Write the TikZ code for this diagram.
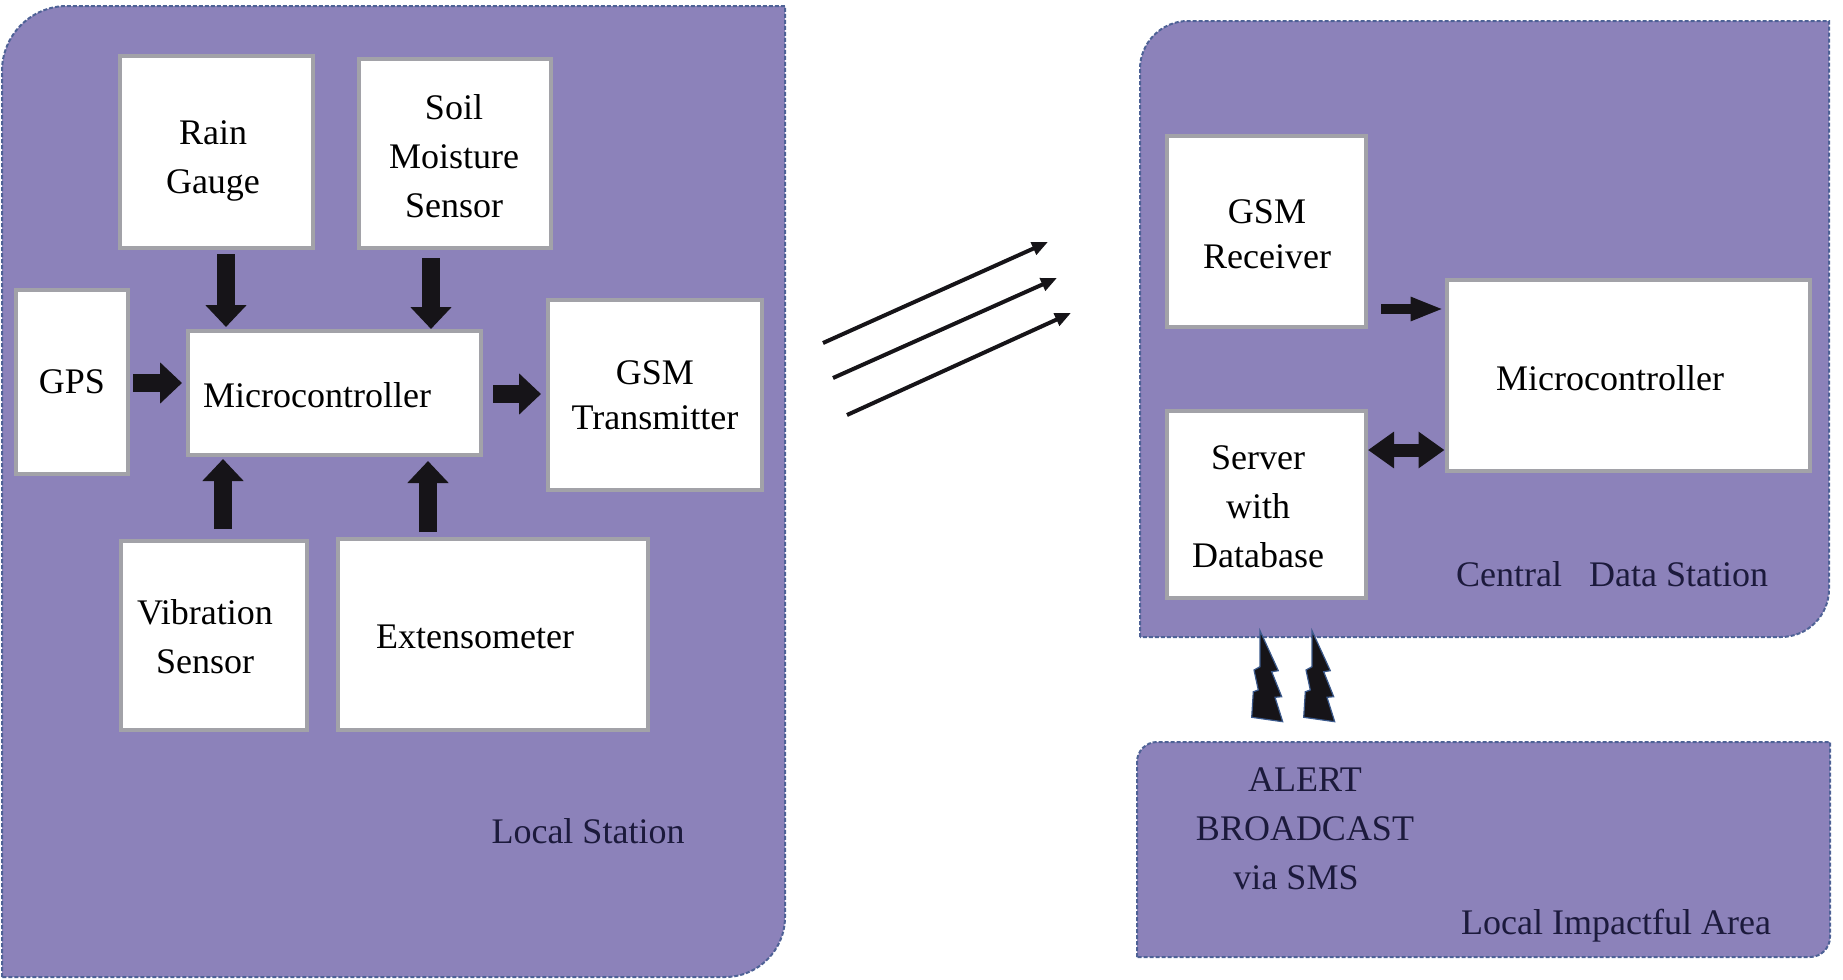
\documentclass[tikz,border=0pt]{standalone}
\usepackage{fontspec}
\setmainfont{Liberation Serif}
\usetikzlibrary{arrows.meta}

\definecolor{panelfill}{RGB}{140,130,186}
\definecolor{paneledge}{RGB}{78,98,150}
\definecolor{boxedge}{RGB}{162,162,168}
\definecolor{inkblack}{RGB}{22,20,24}
\definecolor{navytext}{RGB}{28,26,60}
\definecolor{boltedge}{RGB}{60,90,140}

\tikzset{
  panel/.style={fill=panelfill, draw=paneledge, line width=1pt, dash pattern=on 2pt off 1pt},
  box/.style={draw=boxedge, line width=2pt, fill=white, inner sep=0pt, align=center,
              font=\fontsize{18pt}{24.5pt}\selectfont, text=black},
  boxtight/.style={box, font=\fontsize{18pt}{22.4pt}\selectfont},
  txt/.style={inner sep=0pt, align=center, font=\fontsize{18pt}{24.5pt}\selectfont, text=black},
  tag/.style={inner sep=0pt, align=center, font=\fontsize{18pt}{24.5pt}\selectfont, text=navytext},
  blk/.style={draw=inkblack, line width=9pt, -{Triangle[width=20pt,length=11pt]}},
  blksmall/.style={draw=inkblack, line width=5pt, -{Triangle[width=11pt,length=16.5pt]}},
  blkboth/.style={draw=inkblack, line width=6.5pt, {Triangle[width=17.5pt,length=13pt]}-{Triangle[width=17.5pt,length=13pt]}},
  radio/.style={draw=inkblack, line width=2pt, -{Triangle[width=6.5pt,length=8pt]}},
  bolt/.style={fill=inkblack, draw=boltedge, line width=0.6pt, line join=miter}
}

\begin{document}
\begin{tikzpicture}[x=0.5pt, y=-0.5pt]
  \useasboundingbox (0,0) rectangle (1843,980);

  % ---- station panels (rounded top-left and bottom-right corners) ----
  \path[panel] (2,977) -- (2,71) .. controls (2,35.1) and (31.1,6) .. (67,6)
     -- (785,6) -- (785,917) .. controls (785,950.1) and (758.1,977) .. (725,977) -- cycle;
  \path[panel] (1140,637) -- (1140,69) .. controls (1140,42.5) and (1161.5,21) .. (1188,21)
     -- (1829,21) -- (1829,589) .. controls (1829,615.5) and (1807.5,637) .. (1781,637) -- cycle;
  \path[panel] (1137,957) -- (1137,762) .. controls (1137,751) and (1146,742) .. (1157,742)
     -- (1830,742) -- (1830,937) .. controls (1830,948) and (1821,957) .. (1810,957) -- cycle;

  % ---- local station blocks ----
  \node[box, minimum width=96.5pt, minimum height=96pt] (rain) at (216.5,152) {};
  \node[txt] (raintxt) at (213,161) {Rain\\Gauge};
  \node[box, minimum width=96pt, minimum height=94.5pt] (soil) at (455,153.5) {};
  \node[txt] (soiltxt) at (454,156) {Soil\\Moisture\\Sensor};
  \node[box, minimum width=56pt, minimum height=92pt] (gps) at (72,382) {GPS};
  \node[box, minimum width=146.5pt, minimum height=62pt] (micro) at (334.5,393) {};
  \node[txt] (microtxt) at (317,395) {Microcontroller};
  \node[boxtight, minimum width=107pt, minimum height=95pt] (gsmT) at (655,395) {GSM\\Transmitter};
  \node[box, minimum width=93pt, minimum height=94.5pt] (vib) at (214,635.5) {};
  \node[txt] (vibtxt) at (205,637) {Vibration\\Sensor};
  \node[box, minimum width=155pt, minimum height=95.5pt] (ext) at (493,634.5) {};
  \node[txt] (exttxt) at (475,637) {Extensometer};

  % ---- central data station blocks ----
  \node[boxtight, minimum width=99.5pt, minimum height=95.5pt] (gsmR) at (1266.5,231.5) {};
  \node[txt, font=\fontsize{18pt}{22.4pt}\selectfont] (gsmRtxt) at (1267,234) {GSM\\Receiver};
  \node[box, minimum width=181.5pt, minimum height=95.5pt] (microR) at (1628,375.5) {};
  \node[txt] (microRtxt) at (1610,378.5) {Microcontroller};
  \node[box, minimum width=99.5pt, minimum height=93.5pt] (server) at (1266.5,504.5) {};
  \node[txt] (servertxt) at (1258,507) {Server\\with\\Database};

  % ---- panel captions ----
  \node[tag] (localtag) at (588,831) {Local Station};
  \node[tag] (centraltag) at (1612,574) {Central\ \ \ Data Station};
  \node[tag] (alert) at (1305,829) {ALERT\\BROADCAST\\via SMS\hspace*{9pt}};
  \node[tag] (areatag) at (1616,926) {Local Impactful Area};

  % ---- sensor inputs to the local microcontroller ----
  \coordinate (ra) at ([xshift=4.75pt]rain.south);
  \draw[blk, shorten <=2pt, shorten >=1pt] (ra) -- (ra |- micro.north);
  \coordinate (sa) at ([xshift=-12pt]soil.south);
  \draw[blk, shorten <=4pt] (sa) -- (sa |- micro.north);
  \coordinate (ga) at ([yshift=-0.5pt]gps.east);
  \draw[blk, shorten <=1.5pt, shorten >=2pt] (ga) -- (ga -| micro.west);
  \coordinate (va) at ([xshift=4.5pt]vib.north);
  \draw[blk, shorten <=5pt, shorten >=1pt] (va) -- (va |- micro.south);
  \coordinate (ea) at ([xshift=-32.5pt]ext.north);
  \draw[blk, shorten <=2.5pt, shorten >=2pt] (ea) -- (ea |- micro.south);
  \coordinate (ma) at ([yshift=-0.5pt]micro.east);
  \draw[blk, shorten <=5pt, shorten >=2.5pt] (ma) -- (ma -| gsmT.west);

  % ---- radio link ----
  \coordinate (w1s) at (823,343); \coordinate (w1e) at (1048,242);
  \coordinate (w2s) at (833,378); \coordinate (w2e) at (1057,278);
  \coordinate (w3s) at (847,415); \coordinate (w3e) at (1071,313);
  \draw[radio] (w1s) -- (w1e);
  \draw[radio] (w2s) -- (w2e);
  \draw[radio] (w3s) -- (w3e);

  % ---- central station links ----
  \coordinate (gr) at ([yshift=10pt]gsmR.south east);
  \draw[blksmall, shorten <=6.5pt, shorten >=0.5pt] (gr) -- (gr -| microR.west);
  \coordinate (sv) at ([yshift=27.25pt]server.east);
  \draw[blkboth] (sv) -- (sv -| microR.west);

  % ---- alert lightning bolts ----
  \foreach \dx in {0,52}{
    \begin{scope}[xshift=\dx*0.5pt]
      \path[bolt] (1260,630.7) -- (1278.3,670.7) -- (1271.7,671.7) -- (1281.7,696.7)
        -- (1275,697.3) -- (1282.7,721.7) -- (1251.7,717.3) -- (1253.3,691.7)
        -- (1258.3,690) -- (1254,670) -- (1260,666.7) -- cycle;
    \end{scope}
  }
\end{tikzpicture}
\end{document}
